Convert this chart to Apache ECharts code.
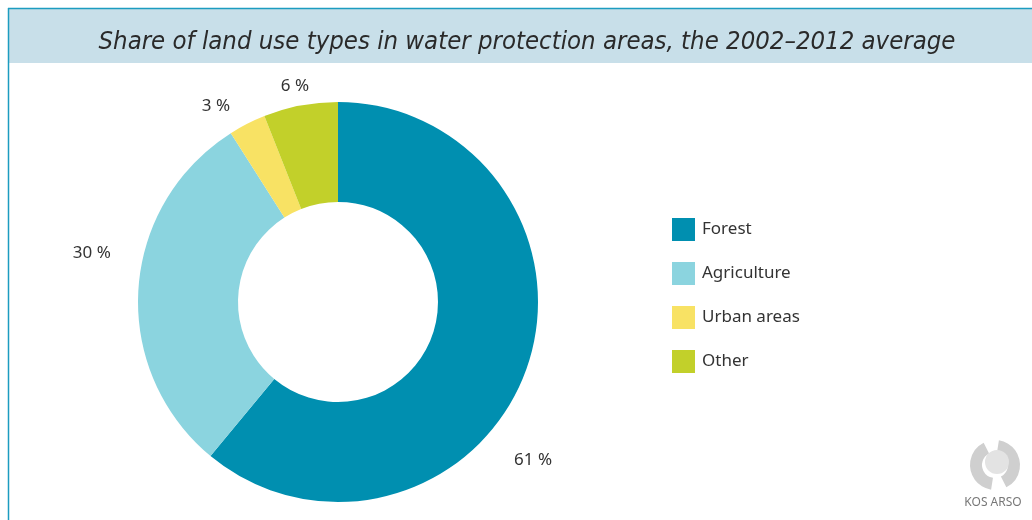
<!DOCTYPE html>
<html>
<head>
<meta charset="utf-8">
<script src="https://cdn.jsdelivr.net/npm/echarts@6/dist/echarts.min.js"></script>
<style>
  html, body { margin: 0; padding: 0; background: #ffffff; }
  #chart { width: 1032px; height: 520px; }
</style>
</head>
<body>
<div id="chart"></div>
<script>
// ---- data ----
const categories = ['Forest', 'Agriculture', 'Urban areas', 'Other'];
const shares = [61, 30, 3, 6];
const titleText = 'Share of land use types in water protection areas, the 2002\u20132012 average';
const sourceText = 'KOS ARSO';

// ---- style ----
const colors = ['#008fb0', '#8bd4df', '#f8e264', '#c2d02a'];
const CX = 338, CY = 302;
// label placement (polar, degrees clockwise from 12 o'clock, distance from centre)
const labelPolar = [
  { a: 129, d: 251 },
  { a: 281.3, d: 251 },
  { a: 328.1, d: 231 },
  { a: 348.7, d: 220 }
];

const chart = echarts.init(document.getElementById('chart'), null, { renderer: 'canvas' });

const seriesData = categories.map((c, i) => ({ name: c, value: shares[i], itemStyle: { color: colors[i] } }));

chart.setOption({
  backgroundColor: '#ffffff',
  animation: false,
  graphic: [
    { type: 'rect', shape: { x: 9, y: 9, width: 1023, height: 54 }, style: { fill: '#c8dfe9' }, z: -1 },
    { type: 'line', shape: { x1: 8, y1: 8.5, x2: 1032, y2: 8.5 }, style: { stroke: '#1c9cc0', lineWidth: 1.5 } },
    { type: 'line', shape: { x1: 8.5, y1: 8, x2: 8.5, y2: 520 }, style: { stroke: '#1c9cc0', lineWidth: 1.5 } },
    // logo
    { type: 'sector', shape: { cx: 995, cy: 465, r0: 13, r: 25, startAngle: Math.PI * 0.55, endAngle: Math.PI * 1.35 }, style: { fill: '#cfcfcf' } },
    { type: 'sector', shape: { cx: 995, cy: 465, r0: 13, r: 25, startAngle: Math.PI * 1.55, endAngle: Math.PI * 2.35 }, style: { fill: '#cfcfcf' } },
    { type: 'circle', shape: { cx: 997, cy: 462, r: 12 }, style: { fill: '#e3e3e3' } },
    { type: 'text', x: 993, y: 503, style: { text: sourceText, fill: '#777777', fontSize: 12, fontFamily: 'Noto Sans', align: 'center', verticalAlign: 'middle' } }
  ],
  title: {
    text: titleText,
    left: 522,
    top: 37,
    textAlign: 'center',
    textVerticalAlign: 'middle',
    textStyle: { fontFamily: '"DejaVu Sans Condensed", "DejaVu Sans", sans-serif', fontStyle: 'italic', fontWeight: 'normal', fontSize: 25.5, color: '#2a2a2a' }
  },
  legend: {
    orient: 'vertical',
    left: 667,
    top: 213,
    itemWidth: 23,
    itemHeight: 23,
    itemGap: 21,
    icon: 'rect',
    data: categories,
    textStyle: { fontFamily: 'Noto Sans', fontSize: 17, color: '#333333', padding: [0, 0, 0, 2] },
    selectedMode: false
  },
  series: [{
    type: 'pie',
    center: [CX, CY],
    radius: [100, 200],
    startAngle: 90,
    clockwise: true,
    avoidLabelOverlap: false,
    label: {
      show: true,
      position: 'outside',
      formatter: p => p.value + ' %',
      fontFamily: 'Noto Sans',
      fontSize: 17,
      color: '#333333'
    },
    labelLine: { show: false },
    labelLayout: function (params) {
      const p = labelPolar[params.dataIndex];
      const rad = p.a * Math.PI / 180;
      return { x: CX + p.d * Math.sin(rad), y: CY - p.d * Math.cos(rad), align: 'center', verticalAlign: 'middle' };
    },
    emphasis: { disabled: true },
    data: seriesData
  }]
});
</script>
</body>
</html>
